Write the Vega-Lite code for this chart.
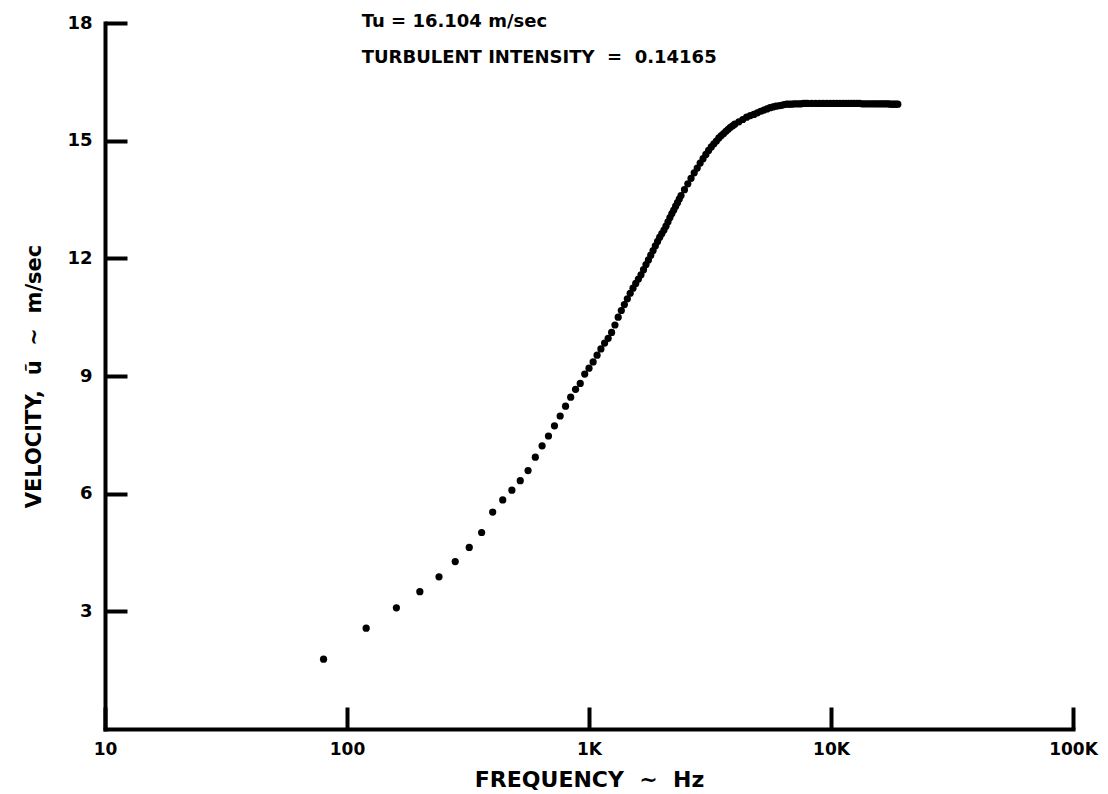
{
  "$schema": "https://vega.github.io/schema/vega-lite/v6.json",
  "width": 968,
  "height": 706,
  "autosize": {"type": "none"},
  "padding": {"left": 105, "top": 23, "right": 35, "bottom": 65},
  "background": "white",
  "config": {"view": {"stroke": null}, "font": "DejaVu Sans"},
  "data": {
    "values": [
      {"f": 80, "v": 1.78}, {"f": 120, "v": 2.57}, {"f": 160, "v": 3.09}, {"f": 200, "v": 3.5},
      {"f": 240, "v": 3.88}, {"f": 280, "v": 4.27}, {"f": 320, "v": 4.63}, {"f": 360, "v": 5.01},
      {"f": 400, "v": 5.53}, {"f": 440, "v": 5.84}, {"f": 480, "v": 6.09}, {"f": 520, "v": 6.33},
      {"f": 560, "v": 6.59}, {"f": 600, "v": 6.93}, {"f": 640, "v": 7.22}, {"f": 680, "v": 7.47},
      {"f": 720, "v": 7.73}, {"f": 760, "v": 7.98}, {"f": 800, "v": 8.23}, {"f": 840, "v": 8.46},
      {"f": 880, "v": 8.66}, {"f": 920, "v": 8.81}, {"f": 960, "v": 9.05}, {"f": 1000, "v": 9.2},
      {"f": 1040, "v": 9.36}, {"f": 1080, "v": 9.53}, {"f": 1120, "v": 9.69}, {"f": 1160, "v": 9.84},
      {"f": 1200, "v": 9.96}, {"f": 1240, "v": 10.11}, {"f": 1280, "v": 10.3}, {"f": 1320, "v": 10.5},
      {"f": 1360, "v": 10.67}, {"f": 1400, "v": 10.82}, {"f": 1440, "v": 10.97}, {"f": 1480, "v": 11.11},
      {"f": 1520, "v": 11.24}, {"f": 1560, "v": 11.36}, {"f": 1600, "v": 11.47}, {"f": 1640, "v": 11.58},
      {"f": 1680, "v": 11.71}, {"f": 1720, "v": 11.84}, {"f": 1760, "v": 11.96}, {"f": 1800, "v": 12.08},
      {"f": 1840, "v": 12.2}, {"f": 1880, "v": 12.32}, {"f": 1920, "v": 12.43}, {"f": 1960, "v": 12.54},
      {"f": 2000, "v": 12.63}, {"f": 2040, "v": 12.72}, {"f": 2080, "v": 12.82}, {"f": 2120, "v": 12.93},
      {"f": 2160, "v": 13.04}, {"f": 2200, "v": 13.14}, {"f": 2240, "v": 13.23}, {"f": 2280, "v": 13.33},
      {"f": 2320, "v": 13.42}, {"f": 2360, "v": 13.51}, {"f": 2400, "v": 13.6}, {"f": 2480, "v": 13.75},
      {"f": 2560, "v": 13.9}, {"f": 2640, "v": 14.04}, {"f": 2720, "v": 14.18}, {"f": 2800, "v": 14.3},
      {"f": 2880, "v": 14.43}, {"f": 2960, "v": 14.54}, {"f": 3040, "v": 14.65}, {"f": 3120, "v": 14.75},
      {"f": 3200, "v": 14.84}, {"f": 3280, "v": 14.92}, {"f": 3360, "v": 14.99}, {"f": 3440, "v": 15.07},
      {"f": 3520, "v": 15.13}, {"f": 3600, "v": 15.18}, {"f": 3680, "v": 15.24}, {"f": 3760, "v": 15.29},
      {"f": 3840, "v": 15.34}, {"f": 3920, "v": 15.38}, {"f": 4000, "v": 15.42}, {"f": 4160, "v": 15.48},
      {"f": 4320, "v": 15.54}, {"f": 4480, "v": 15.6}, {"f": 4640, "v": 15.64}, {"f": 4800, "v": 15.67},
      {"f": 4960, "v": 15.71}, {"f": 5120, "v": 15.75}, {"f": 5280, "v": 15.78}, {"f": 5440, "v": 15.81},
      {"f": 5600, "v": 15.84}, {"f": 5760, "v": 15.86}, {"f": 5920, "v": 15.88}, {"f": 6080, "v": 15.89},
      {"f": 6240, "v": 15.9}, {"f": 6400, "v": 15.92}, {"f": 6560, "v": 15.93}, {"f": 6720, "v": 15.93},
      {"f": 6880, "v": 15.93}, {"f": 7040, "v": 15.94}, {"f": 7200, "v": 15.94}, {"f": 7360, "v": 15.94},
      {"f": 7520, "v": 15.94}, {"f": 7680, "v": 15.95}, {"f": 7840, "v": 15.95}, {"f": 8000, "v": 15.95},
      {"f": 8320, "v": 15.95}, {"f": 8640, "v": 15.95}, {"f": 8960, "v": 15.95}, {"f": 9280, "v": 15.95},
      {"f": 9600, "v": 15.95}, {"f": 9920, "v": 15.95}, {"f": 10240, "v": 15.95}, {"f": 10560, "v": 15.95},
      {"f": 10880, "v": 15.95}, {"f": 11200, "v": 15.95}, {"f": 11520, "v": 15.95}, {"f": 11840, "v": 15.95},
      {"f": 12160, "v": 15.95}, {"f": 12480, "v": 15.95}, {"f": 12800, "v": 15.95}, {"f": 13120, "v": 15.95},
      {"f": 13440, "v": 15.94}, {"f": 13760, "v": 15.94}, {"f": 14080, "v": 15.94}, {"f": 14400, "v": 15.94},
      {"f": 14720, "v": 15.94}, {"f": 15040, "v": 15.94}, {"f": 15360, "v": 15.94}, {"f": 15680, "v": 15.94},
      {"f": 16000, "v": 15.94}, {"f": 16320, "v": 15.94}, {"f": 16640, "v": 15.94}, {"f": 16960, "v": 15.94},
      {"f": 17280, "v": 15.94}, {"f": 17600, "v": 15.93}, {"f": 17920, "v": 15.93}, {"f": 18240, "v": 15.93},
      {"f": 18560, "v": 15.93}, {"f": 18880, "v": 15.93}
    ]
  },
  "layer": [
    {
      "mark": {"type": "point", "shape": "circle", "filled": true, "color": "black", "opacity": 1, "size": 52},
      "encoding": {
        "x": {
          "field": "f",
          "type": "quantitative",
          "scale": {"type": "log", "domain": [10, 100000], "nice": false},
          "axis": {
            "values": [10, 100, 1000, 10000, 100000],
            "labelExpr": "datum.value >= 1000 ? (datum.value / 1000) + 'K' : datum.value",
            "title": "FREQUENCY\u00a0\u00a0~\u00a0\u00a0Hz",
            "grid": false,
            "domainColor": "black",
            "domainWidth": 4,
            "domainCap": "square",
            "tickColor": "black",
            "tickWidth": 4,
            "tickSize": -22,
            "labelPadding": 34,
            "labelFlush": false,
            "labelOverlap": false,
            "labelFont": "DejaVu Sans",
            "labelFontWeight": "bold",
            "labelFontSize": 17,
            "labelColor": "black",
            "titleFont": "DejaVu Sans",
            "titleFontWeight": "bold",
            "titleFontSize": 22,
            "titleColor": "black",
            "titlePadding": 12
          }
        },
        "y": {
          "field": "v",
          "type": "quantitative",
          "scale": {"domain": [0, 18], "nice": false, "zero": true},
          "axis": {
            "values": [3, 6, 9, 12, 15, 18],
            "title": "VELOCITY,\u00a0\u00a0\u0169\u00a0\u00a0~\u00a0\u00a0m/sec",
            "grid": false,
            "domainColor": "black",
            "domainWidth": 4,
            "domainCap": "square",
            "tickColor": "black",
            "tickWidth": 4,
            "tickSize": -22,
            "labelPadding": 35,
            "labelFont": "DejaVu Sans",
            "labelFontWeight": "bold",
            "labelFontSize": 18,
            "labelColor": "black",
            "titleFont": "DejaVu Sans",
            "titleFontWeight": "bold",
            "titleFontSize": 21,
            "titleColor": "black",
            "titlePadding": 22
          }
        }
      }
    },
    {
      "data": {"values": [{}]},
      "mark": {"type": "text", "align": "left", "baseline": "alphabetic", "font": "DejaVu Sans", "fontWeight": "bold", "fontSize": 18, "color": "black"},
      "encoding": {
        "x": {"datum": 115},
        "y": {"datum": 17.9},
        "text": {"value": "Tu = 16.104 m/sec"}
      }
    },
    {
      "data": {"values": [{}]},
      "mark": {"type": "text", "align": "left", "baseline": "alphabetic", "font": "DejaVu Sans", "fontWeight": "bold", "fontSize": 18, "color": "black"},
      "encoding": {
        "x": {"datum": 115},
        "y": {"datum": 16.99},
        "text": {"value": "TURBULENT INTENSITY\u00a0\u00a0=\u00a0\u00a00.14165"}
      }
    }
  ]
}
